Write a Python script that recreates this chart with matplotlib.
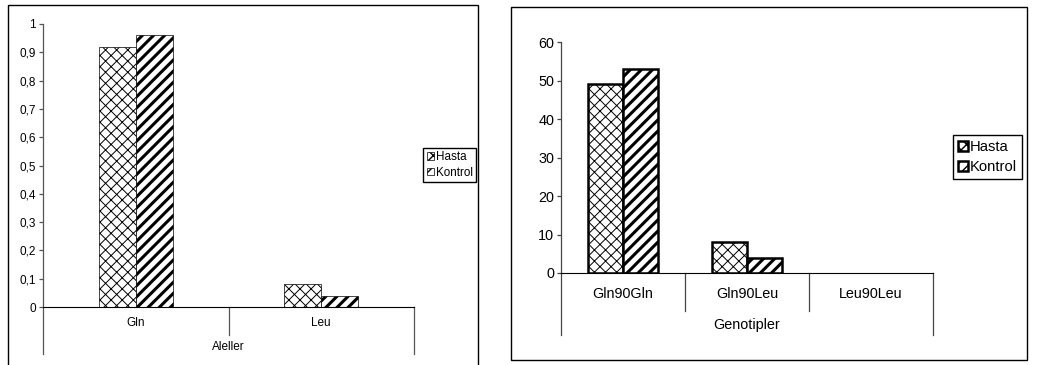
import numpy as np
import matplotlib.pyplot as plt
from matplotlib.patches import Rectangle

plt.rcParams['font.family'] = ['Liberation Sans', 'DejaVu Sans']

# allel frekansları
aleller = ['Gln', 'Leu']
alel_hasta = [0.92, 0.08]
alel_kontrol = [0.96, 0.04]
alel_ticks = [0, 0.1, 0.2, 0.3, 0.4, 0.5, 0.6, 0.7, 0.8, 0.9, 1]
alel_ticklabels = ['0', '0,1', '0,2', '0,3', '0,4', '0,5', '0,6', '0,7', '0,8', '0,9', '1']

# genotip sayıları
genotipler = ['Gln90Gln', 'Gln90Leu', 'Leu90Leu']
gen_hasta = [49, 8, 0]
gen_kontrol = [53, 4, 0]
gen_ticks = [0, 10, 20, 30, 40, 50, 60]

W, H = 1038, 365
fig = plt.figure(figsize=(W / 100, H / 100), dpi=100)


def px_axes(x0, y0, x1, y1):
    # piksel koordinatlarından eksen oluştur (y yukarıdan aşağı)
    return fig.add_axes([x0 / W, 1 - y1 / H, (x1 - x0) / W, (y1 - y0) / H])


def frame(x0, y0, x1, y1):
    fig.patches.append(Rectangle((x0 / W, 1 - y1 / H), (x1 - x0) / W, (y1 - y0) / H,
                                 transform=fig.transFigure, fill=False,
                                 edgecolor='black', linewidth=1.0))


def draw_bars(ax, cats, hasta, kontrol, bw, ew, ec):
    x = np.arange(len(cats))
    with plt.rc_context({'hatch.linewidth': 0.7}):
        b1 = ax.bar(x - bw / 2, hasta, bw, facecolor='white', edgecolor=ec,
                    linewidth=ew, hatch='xxx', label='Hasta')
    with plt.rc_context({'hatch.linewidth': 2.2}):
        b2 = ax.bar(x + bw / 2, kontrol, bw, facecolor='white', edgecolor=ec,
                    linewidth=ew, hatch='///', label='Kontrol')
    for bars, lw in ((b1, 0.7), (b2, 2.2)):
        for p in bars:
            if hasattr(p, 'set_hatch_linewidth'):
                p.set_hatch_linewidth(lw)
            # sıfır değerli çubuk çizilmez
            if p.get_height() == 0:
                p.set_visible(False)
    return b1, b2


def style_axes(ax, cats, title, fs, drop_lbl, drop_title, drop_end, axc):
    n = len(cats)
    ax.set_xlim(-0.5, n - 0.5)
    for s in ('top', 'right'):
        ax.spines[s].set_visible(False)
    ax.spines['left'].set_color(axc)
    ax.spines['bottom'].set_color('black')
    ax.spines['left'].set_linewidth(0.9)
    ax.set_xticks([])
    ax.tick_params(axis='y', length=3, width=0.9, color=axc, labelsize=fs, pad=2)
    tr = ax.get_xaxis_transform()
    # kategori ayraçları
    for i in range(n + 1):
        yb = drop_end if i in (0, n) else drop_lbl
        ax.plot([i - 0.5, i - 0.5], [0, yb], transform=tr, color=axc,
                linewidth=0.9, clip_on=False)
    for i, c in enumerate(cats):
        ax.text(i, drop_lbl * 0.55, c, transform=tr, ha='center', va='center',
                fontsize=fs)
    ax.text((n - 1) / 2, drop_title, title, transform=tr, ha='center',
            va='center', fontsize=fs)


# sol grafik: aleller
frame(8, 5, 478, 368)
ax1 = px_axes(43, 24, 414, 307)
draw_bars(ax1, aleller, alel_hasta, alel_kontrol, 0.2, 0.5, 'black')
ax1.set_ylim(0, 1)
ax1.set_yticks(alel_ticks)
ax1.set_yticklabels(alel_ticklabels)
style_axes(ax1, aleller, 'Aleller', 8.5, -0.10, -0.143, -0.166, '#555555')
ax1.legend(loc='center left', bbox_to_anchor=(423 / W, 1 - 165 / H),
           bbox_transform=fig.transFigure, fontsize=8.4, frameon=True,
           fancybox=False, edgecolor='black', framealpha=1,
           handlelength=0.6, handleheight=0.6, handletextpad=0.2,
           borderpad=0.3, labelspacing=0.3, borderaxespad=0)

# sağ grafik: genotipler
frame(511, 7, 1027, 360)
ax2 = px_axes(561, 42, 933, 273)
draw_bars(ax2, genotipler, gen_hasta, gen_kontrol, 0.286, 1.8, 'black')
ax2.set_ylim(0, 60)
ax2.set_yticks(gen_ticks)
style_axes(ax2, genotipler, 'Genotipler', 10.4, -0.165, -0.225, -0.268, '#444444')
ax2.legend(loc='center left', bbox_to_anchor=(953 / W, 1 - 157 / H),
           bbox_transform=fig.transFigure, fontsize=10.6, frameon=True,
           fancybox=False, edgecolor='black', framealpha=1,
           handlelength=0.65, handleheight=0.65, handletextpad=0.15,
           borderpad=0.35, labelspacing=0.4, borderaxespad=0)

fig.savefig('out.png', dpi=100)
